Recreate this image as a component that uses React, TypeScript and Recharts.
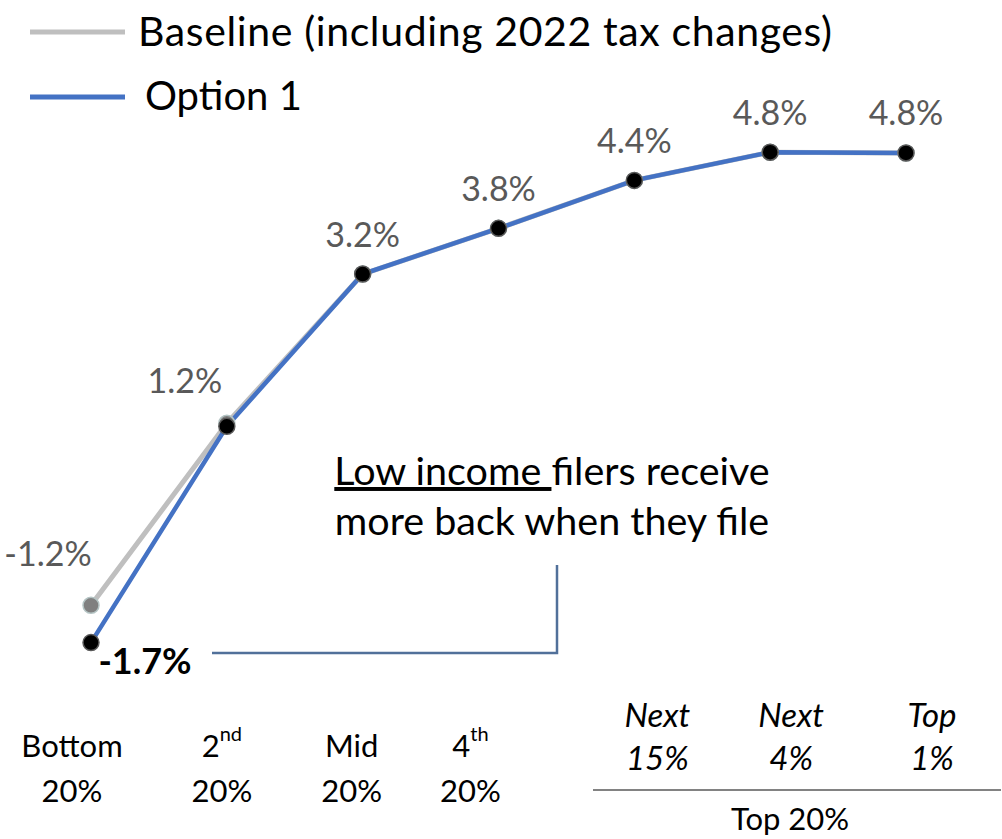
import React from 'react';
import { LineChart, Line, XAxis, YAxis, LabelList } from 'recharts';

const categories = ['Bottom 20%', '2nd 20%', 'Mid 20%', '4th 20%', 'Next 15%', 'Next 4%', 'Top 1%'];
const tickLine1 = ['Bottom', '2', 'Mid', '4', 'Next', 'Next', 'Top'];
const tickSup = ['', 'nd', '', 'th', '', '', ''];
const tickLine2 = ['20%', '20%', '20%', '20%', '15%', '4%', '1%'];
const baselineValues = [-1.15, 1.24, 3.2, 3.8, 4.43, 4.8, 4.79];
const option1Values = [-1.64, 1.2, 3.2, 3.8, 4.43, 4.8, 4.79];
const baselineLabels = ['-1.2%', '1.2%', '3.2%', '3.8%', '4.4%', '4.8%', '4.8%'];
const option1Labels = ['-1.7%', '', '', '', '', '', ''];
const seriesNames = ['Baseline (including 2022 tax changes)', 'Option 1'];
const groupLabel = 'Top 20%';
const annotationLines = ['Low income ', 'filers receive', 'more back when they file'];

const data = categories.map((c, i) => ({
  name: c,
  baseline: baselineValues[i],
  option1: option1Values[i],
}));

const FONT = 'Lato, "Open Sans", sans-serif';
const BLUE = '#4472C4';
const GRAY = '#BFBFBF';

const tickDx = [-19, -5, -11, -28, 23, 21, 26];

function CategoryTick(props: any) {
  const { x, y, index } = props;
  const italic = index >= 4;
  const cx = x + tickDx[index];
  const y1 = y + (italic ? 44 : 75);
  const y2 = y + (italic ? 87 : 120);
  const fs = italic ? 33 : 31;
  return (
    <g>
      <text x={cx} y={y1} textAnchor="middle" dominantBaseline="central" fontFamily={FONT} fontSize={fs} fontStyle={italic ? 'italic' : 'normal'} fill="#000">
        {tickLine1[index]}
        {tickSup[index] ? <tspan fontSize={20} dy={-12}>{tickSup[index]}</tspan> : null}
      </text>
      <text x={cx} y={y2} textAnchor="middle" dominantBaseline="central" fontFamily={FONT} fontSize={fs} fontStyle={italic ? 'italic' : 'normal'} fill="#000">
        {tickLine2[index]}
      </text>
    </g>
  );
}

function BaselineLabel(props: any) {
  const px = props.x ?? props.viewBox?.x;
  const py = props.y ?? props.viewBox?.y;
  const i = props.index;
  let dx = 0;
  let dy = -41;
  if (i === 0) { dx = -43; dy = -53; }
  if (i === 1) { dx = -42; dy = -44; }
  return (
    <text x={px + dx} y={py + dy} textAnchor="middle" dominantBaseline="central" fontFamily={FONT} fontSize={34} fill="#595959">
      {baselineLabels[i]}
    </text>
  );
}

function OptionLabel(props: any) {
  const px = props.x ?? props.viewBox?.x;
  const py = props.y ?? props.viewBox?.y;
  const i = props.index;
  if (!option1Labels[i]) return null;
  return (
    <text x={px + 54} y={py + 17} textAnchor="middle" dominantBaseline="central" fontFamily={FONT} fontSize={36} fontWeight="bold" fill="#000">
      {option1Labels[i]}
    </text>
  );
}

export default function App() {
  return (
    <div style={{ position: 'absolute', left: 0, top: 0, width: 1002, height: 839, background: '#fff', overflow: 'hidden' }}>
      <LineChart width={1002} height={839} data={data} margin={{ top: 137, right: 96, bottom: 9, left: 91 }}>
        <XAxis dataKey="name" axisLine={false} tickLine={false} tickSize={0} tickMargin={0} height={160} interval={0} tick={<CategoryTick />} />
        <YAxis hide domain={[-2, 5]} type="number" />
        <Line
          dataKey="baseline"
          stroke={GRAY}
          strokeWidth={5}
          isAnimationActive={false}
          dot={{ r: 8, fill: '#808080', stroke: '#B4C4C4', strokeWidth: 1.5 }}
        >
          <LabelList dataKey="baseline" content={<BaselineLabel />} />
        </Line>
        <Line
          dataKey="option1"
          stroke={BLUE}
          strokeWidth={4.5}
          isAnimationActive={false}
          dot={{ r: 8, fill: '#000', stroke: '#595959', strokeWidth: 1.5 }}
        >
          <LabelList dataKey="option1" content={<OptionLabel />} />
        </Line>
      </LineChart>
      <svg width={1002} height={839} style={{ position: 'absolute', left: 0, top: 0, pointerEvents: 'none' }}>
        <line x1={30} x2={125} y1={32} y2={32} stroke={GRAY} strokeWidth={5} />
        <text x={138} y={30} dominantBaseline="central" fontFamily={FONT} fontSize={41} textLength={694} lengthAdjust="spacing" fill="#000">{seriesNames[0]}</text>
        <line x1={30} x2={125} y1={97} y2={97} stroke={BLUE} strokeWidth={5} />
        <text x={145} y={95} dominantBaseline="central" fontFamily={FONT} fontSize={40} fill="#000">{seriesNames[1]}</text>

        <text x={552} y={485} textAnchor="middle" fontFamily={FONT} fontSize={39.5} fill="#000">
          <tspan textDecoration="underline">{annotationLines[0]}</tspan>
          <tspan>{annotationLines[1]}</tspan>
        </text>
        <text x={552} y={535} textAnchor="middle" fontFamily={FONT} fontSize={39.5} fill="#000">{annotationLines[2]}</text>
        <polyline points="212,653 557,653 557,565" fill="none" stroke="#51709A" strokeWidth={2.5} />

        <line x1={593} x2={1001} y1={790} y2={790} stroke="#595959" strokeWidth={1.5} />
        <text x={790} y={818} textAnchor="middle" dominantBaseline="central" fontFamily={FONT} fontSize={31} fill="#000">{groupLabel}</text>
      </svg>
    </div>
  );
}
